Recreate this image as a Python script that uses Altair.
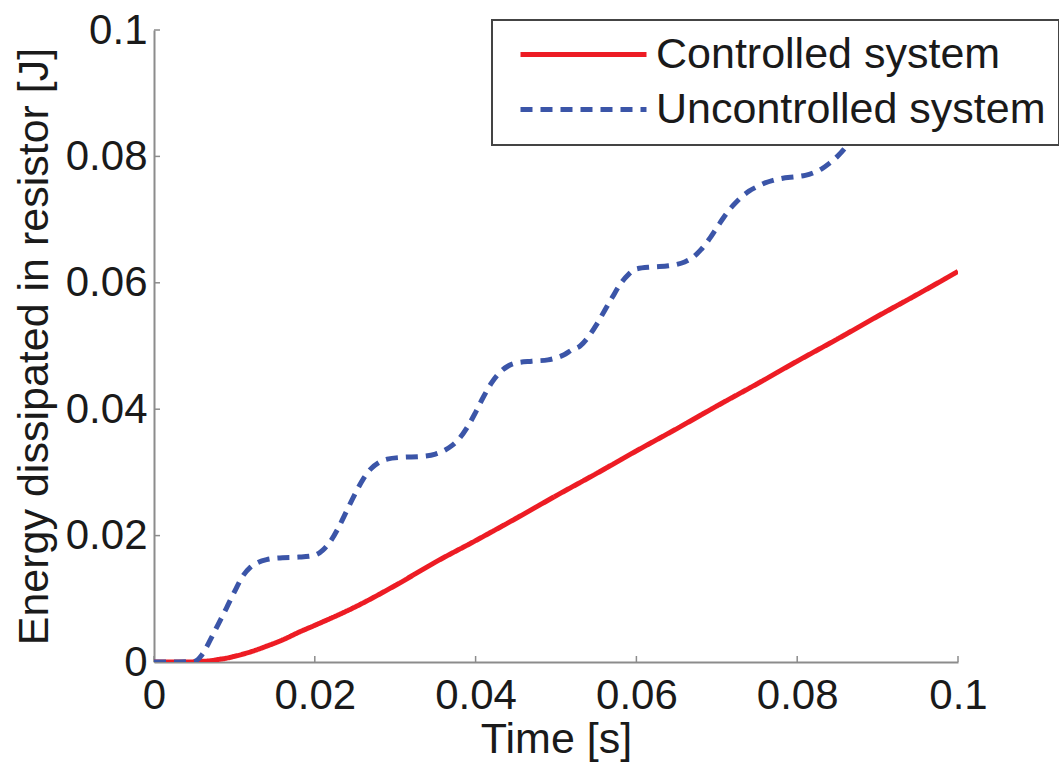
import altair as alt
import pandas as pd

# Energy dissipated in the resistor, controlled case
time_controlled = [0.0, 0.002, 0.004, 0.005, 0.006, 0.007, 0.008, 0.009, 0.010, 0.012,
                   0.014, 0.016, 0.018, 0.020, 0.025, 0.030, 0.035, 0.040, 0.045, 0.050,
                   0.055, 0.060, 0.065, 0.070, 0.075, 0.080, 0.085, 0.090, 0.095, 0.100]
energy_controlled = [0.0, 0.0, 0.0, 0.00003, 0.0001, 0.0002, 0.0004, 0.0006, 0.0009, 0.0016,
                     0.0025, 0.0035, 0.0047, 0.0058, 0.0087, 0.0121, 0.0158, 0.0192, 0.0227, 0.0263,
                     0.0298, 0.0334, 0.0369, 0.0405, 0.0440, 0.0476, 0.0511, 0.0547, 0.0582, 0.0618]

# Energy dissipated in the resistor, uncontrolled case
time_uncontrolled = [0.0, 0.003, 0.005, 0.006, 0.007, 0.008, 0.009, 0.010, 0.011, 0.012,
                     0.013, 0.014, 0.016, 0.018, 0.020, 0.021, 0.022, 0.023, 0.024, 0.025,
                     0.026, 0.027, 0.028, 0.029, 0.031, 0.033, 0.035, 0.036, 0.037, 0.038,
                     0.039, 0.040, 0.041, 0.042, 0.043, 0.044, 0.045, 0.047, 0.049, 0.050,
                     0.051, 0.052, 0.053, 0.054, 0.055, 0.056, 0.057, 0.058, 0.059, 0.060,
                     0.062, 0.064, 0.065, 0.066, 0.067, 0.068, 0.069, 0.070, 0.071, 0.072,
                     0.073, 0.074, 0.075, 0.076, 0.077, 0.078, 0.080, 0.081, 0.082, 0.083,
                     0.084, 0.085, 0.086, 0.087, 0.088, 0.089, 0.090, 0.091, 0.092, 0.093,
                     0.094, 0.096, 0.097, 0.098, 0.099, 0.100]
energy_uncontrolled = [0.0, 0.0, 0.0001, 0.0012, 0.0035, 0.0060, 0.0085, 0.0111, 0.0135, 0.0150,
                       0.0158, 0.0162, 0.0165, 0.0166, 0.0169, 0.0177, 0.0192, 0.0214, 0.0240, 0.0266,
                       0.0289, 0.0306, 0.0316, 0.0321, 0.0324, 0.0325, 0.0329, 0.0334, 0.0342, 0.0354,
                       0.0372, 0.0395, 0.0420, 0.0442, 0.0458, 0.0468, 0.0473, 0.0476, 0.0478, 0.0481,
                       0.0486, 0.0494, 0.0500, 0.0514, 0.0533, 0.0555, 0.0577, 0.0598, 0.0613, 0.0622,
                       0.0625, 0.0627, 0.0629, 0.0633, 0.0640, 0.0652, 0.0668, 0.0687, 0.0706, 0.0722,
                       0.0735, 0.0745, 0.0752, 0.0758, 0.0762, 0.0765, 0.0768, 0.0770, 0.0774, 0.0780,
                       0.0789, 0.0800, 0.0814, 0.0832, 0.0851, 0.0869, 0.0885, 0.0897, 0.0905, 0.0910,
                       0.0913, 0.0917, 0.0919, 0.0922, 0.0927, 0.0934]

series_names = ["Controlled system", "Uncontrolled system"]
series_colors = ["#ed1c24", "#3b55a8"]
series_dashes = [[1, 0], [12, 8]]

x_ticks = [0, 0.02, 0.04, 0.06, 0.08, 0.1]
y_ticks = [0, 0.02, 0.04, 0.06, 0.08, 0.1]

FONT = "Liberation Sans"
TEXT = "#1a1a1a"
AXIS_GREY = "#8c8c8c"
W, H = 804, 632

df = pd.concat([
    pd.DataFrame({"t": time_controlled, "E": energy_controlled, "series": series_names[0]}),
    pd.DataFrame({"t": time_uncontrolled, "E": energy_uncontrolled, "series": series_names[1]}),
], ignore_index=True)

x_scale = alt.Scale(domain=[0, 0.1], nice=False, zero=False)
y_scale = alt.Scale(domain=[0, 0.1], nice=False, zero=False)

legend = alt.Legend(
    title=None,
    orient="none",
    legendX=338,
    legendY=-10,
    symbolType="stroke",
    symbolSize=126 ** 2,
    symbolStrokeWidth=5,
    symbolOffset=13,
    clipHeight=43,
    labelFont=FONT,
    labelFontSize=43,
    labelColor=TEXT,
    labelLimit=0,
    labelOffset=7,
    padding=13,
    rowPadding=11,
    strokeColor="#444444",
    fillColor="white",
    cornerRadius=0,
)

lines = alt.Chart(df).mark_line(
    strokeWidth=5, strokeCap="butt", clip=True, interpolate="monotone"
).encode(
    x=alt.X("t:Q", scale=x_scale,
            axis=alt.Axis(values=x_ticks, format=".2~f", title="Time [s]",
                          labelFlush=False, labelPadding=46, labelBaseline="alphabetic",
                          titleX=W / 2, titleY=90, titleBaseline="alphabetic")),
    y=alt.Y("E:Q", scale=y_scale,
            axis=alt.Axis(values=y_ticks, format=".2~f", title="Energy dissipated in resistor [J]",
                          labelPadding=7, labelBaseline="middle",
                          titleAngle=270, titleX=-107, titleY=H / 2,
                          titleBaseline="alphabetic", titleAlign="center")),
    color=alt.Color("series:N", scale=alt.Scale(domain=series_names, range=series_colors),
                    legend=legend),
    strokeDash=alt.StrokeDash("series:N", scale=alt.Scale(domain=series_names, range=series_dashes),
                              legend=legend),
)

# inward tick marks on both axes
x_tick_marks = alt.Chart(pd.DataFrame({"t": x_ticks})).mark_rule(
    color=AXIS_GREY, strokeWidth=1.5
).encode(x=alt.X("t:Q", scale=x_scale), y=alt.value(H), y2=alt.value(H - 6))

y_tick_marks = alt.Chart(pd.DataFrame({"E": y_ticks})).mark_rule(
    color=AXIS_GREY, strokeWidth=1.5
).encode(y=alt.Y("E:Q", scale=y_scale), x=alt.value(0), x2=alt.value(6))

chart = alt.layer(x_tick_marks, y_tick_marks, lines).properties(
    width=W,
    height=H,
    autosize=alt.AutoSizeParams(type="none"),
    padding={"left": 154, "top": 30, "right": 101, "bottom": 102},
    background="white",
).configure_view(
    stroke=None
).configure_axis(
    grid=False,
    ticks=False,
    tickSize=0,
    domainColor=AXIS_GREY,
    domainWidth=2,
    labelFont=FONT,
    labelFontSize=42,
    labelColor=TEXT,
    titleFont=FONT,
    titleFontSize=43,
    titleFontWeight="normal",
    titleColor=TEXT,
).configure_legend(
    strokeWidth=2
)

chart.save("out.html", embed_options={"renderer": "svg", "actions": False})
